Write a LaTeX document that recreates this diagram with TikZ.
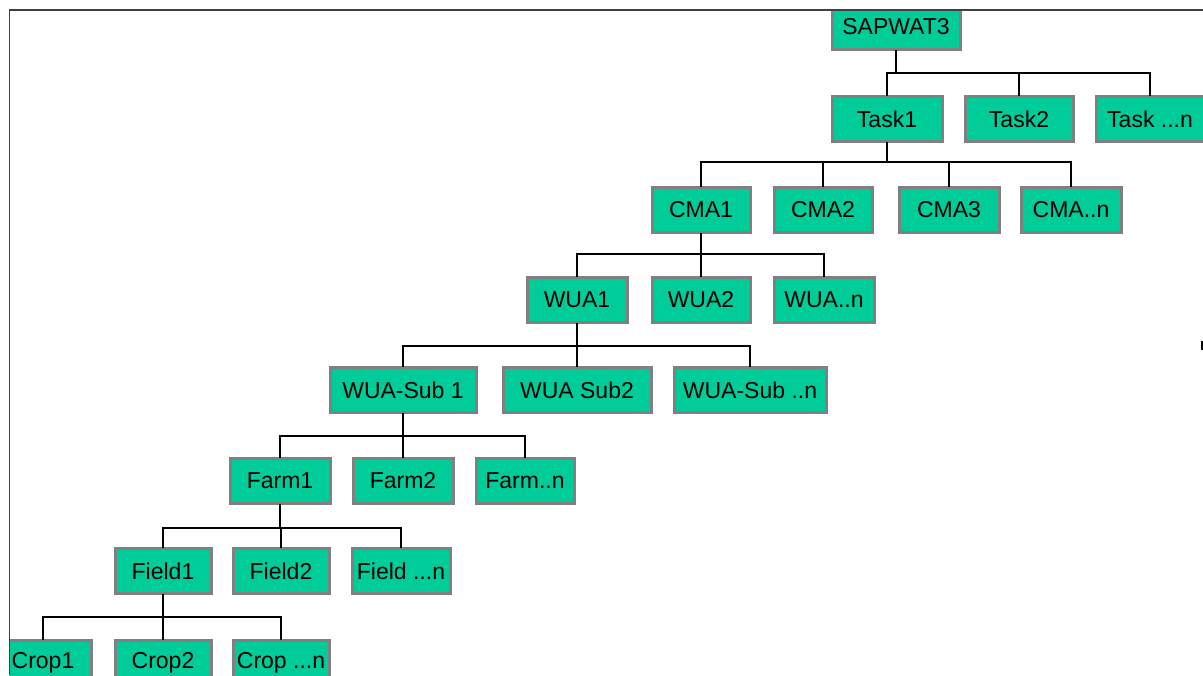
\documentclass[tikz,border=0pt]{standalone}
\usepackage{fontspec}
\setmainfont{Liberation Sans}
\definecolor{boxgreen}{HTML}{00CC99}
\definecolor{boxgray}{HTML}{808080}
\definecolor{framegray}{HTML}{404040}
\begin{document}
\begin{tikzpicture}[x=0.5pt,y=-0.5pt,
    box/.style={draw=boxgray,line width=1.5pt,fill=boxgreen,minimum height=22.5pt,inner sep=0pt,
                font=\fontsize{11.5}{14}\selectfont},
    link/.style={line width=1.25pt,line cap=rect}]
  \useasboundingbox (0,0) rectangle (1203,675);
  \begin{scope}
    \clip (9.5,10) rectangle (1203,675);
    % one row of boxes per level
    \node[box,minimum width=64pt] (sapwat) at (896,27) {SAPWAT3};
    \node[box,minimum width=55pt] (task1) at (887,119) {Task1};
    \node[box,minimum width=54pt] (task2) at (1019,119) {Task2};
    \node[box,minimum width=54pt] (taskn) at (1150,119) {Task ...n};
    \node[box,minimum width=49pt] (cma1) at (701,210) {CMA1};
    \node[box,minimum width=49pt] (cma2) at (823,210) {CMA2};
    \node[box,minimum width=50pt] (cma3) at (949,210) {CMA3};
    \node[box,minimum width=50pt] (cman) at (1071,210) {CMA..n};
    \node[box,minimum width=50pt] (wua1) at (577,300) {WUA1};
    \node[box,minimum width=49pt] (wua2) at (701,300) {WUA2};
    \node[box,minimum width=50pt] (wuan) at (824,300) {WUA..n};
    \node[box,minimum width=73pt] (sub1) at (403,390) {WUA-Sub 1};
    \node[box,minimum width=74pt] (sub2) at (577,390) {WUA Sub2};
    \node[box,minimum width=76pt] (subn) at (750,390) {WUA-Sub ..n};
    \node[box,minimum width=50pt] (farm1) at (280,481) {Farm1};
    \node[box,minimum width=50pt] (farm2) at (403,481) {Farm2};
    \node[box,minimum width=49pt] (farmn) at (525,481) {Farm..n};
    \node[box,minimum width=48pt] (field1) at (163,571) {Field1};
    \node[box,minimum width=48pt] (field2) at (281,571) {Field2};
    \node[box,minimum width=49pt] (fieldn) at (401,571) {Field ...n};
    \node[box,minimum width=48pt] (crop1) at (43,663) {Crop1};
    \node[box,minimum width=48pt] (crop2) at (163,663) {Crop2};
    \node[box,minimum width=48pt] (cropn) at (281,663) {Crop ...n};
  \end{scope}
  % bus heights
  \coordinate (btask) at (0,73);
  \coordinate (bcma) at (0,162);
  \coordinate (bwua) at (0,254);
  \coordinate (bsub) at (0,346);
  \coordinate (bfarm) at (0,436);
  \coordinate (bfield) at (0,528);
  \coordinate (bcrop) at (0,617);
  \foreach \p/\b/\first/\last/\kids in {
      sapwat/btask/task1/taskn/{task1,task2,taskn},
      task1/bcma/cma1/cman/{cma1,cma2,cma3,cman},
      cma1/bwua/wua1/wuan/{wua1,wua2,wuan},
      wua1/bsub/sub1/subn/{sub1,sub2,subn},
      sub1/bfarm/farm1/farmn/{farm1,farm2,farmn},
      farm1/bfield/field1/fieldn/{field1,field2,fieldn},
      field1/bcrop/crop1/cropn/{crop1,crop2,cropn}}{
    \draw[link] (\p.south) -- (\p.south |- \b);
    \draw[link] (\first.north |- \b) -- (\last.north |- \b);
    \foreach \k in \kids
      \draw[link] (\k.north |- \b) -- (\k.north);
  }
  % frame
  \draw[framegray,line width=0.8pt] (9.5,675) -- (9.5,10) -- (1203,10);
  \fill (1201,341) rectangle (1203,350);
\end{tikzpicture}
\end{document}
